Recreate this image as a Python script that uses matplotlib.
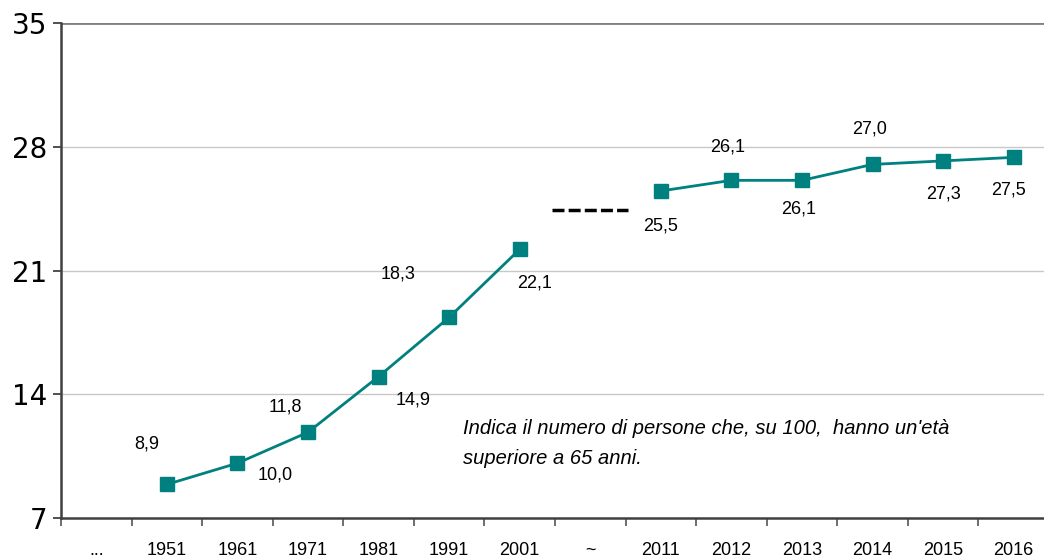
import numpy as np
import matplotlib.pyplot as plt

# categories on the x axis
categories = ["...", "1951", "1961", "1971", "1981", "1991", "2001", "~",
              "2011", "2012", "2013", "2014", "2015", "2016"]

# census years (first segment) and recent years (second segment)
first_years = ["1951", "1961", "1971", "1981", "1991", "2001"]
first_values = [8.9, 10.0, 11.8, 14.9, 18.3, 22.1]
second_years = ["2011", "2012", "2013", "2014", "2015", "2016"]
second_values = [25.5, 26.1, 26.1, 27.0, 27.3, 27.5]

# plotted positions (label text differs slightly from marker height in source)
first_plot = [8.9, 10.1, 11.85, 15.0, 18.35, 22.2]
second_plot = [25.5, 26.1, 26.1, 27.0, 27.2, 27.4]

gap_category = "~"
gap_level = 24.4

note = "Indica il numero di persone che, su 100,  hanno un'età\nsuperiore a 65 anni."

teal = "#00807f"

fig = plt.figure(figsize=(10.44, 5.6), dpi=100)
ax = fig.add_axes([61 / 1044, 42 / 560, 988 / 1044, 495 / 560])

pos = {c: i for i, c in enumerate(categories)}
x1 = [pos[c] for c in first_years]
x2 = [pos[c] for c in second_years]

ax.plot(x1, first_plot, color=teal, lw=2, marker="s", ms=10, zorder=3)
ax.plot(x2, second_plot, color=teal, lw=2, marker="s", ms=10, zorder=3)

g = pos[gap_category]
ax.plot([g - 0.54, g + 0.54], [gap_level, gap_level], color="black", lw=2.5,
        dashes=(3.45, 1.2), solid_capstyle="butt", dash_capstyle="butt")

# label offsets in pixels (dx, dy) relative to each marker
offsets1 = [(-20, 40), (38, -12), (-23, 25), (35, -23), (-51, 43), (15, -34)]
offsets2 = [(0, -35), (-4, 33), (-3, -29), (-3, 35), (0, -33), (-5, -33)]
for xs, ys, vals, offs in [(x1, first_plot, first_values, offsets1),
                           (x2, second_plot, second_values, offsets2)]:
    for x, y, v, (dx, dy) in zip(xs, ys, vals, offs):
        ax.annotate(f"{v:.1f}".replace(".", ","), (x, y),
                    xytext=(dx * 0.72, dy * 0.72), textcoords="offset points",
                    ha="center", va="center", fontsize=13,
                    family="Liberation Sans")

ax.text(5.2, 11.2, note, fontsize=14.5, style="italic",
        family="Liberation Sans", va="center", ha="left", linespacing=1.7)

ax.set_xlim(-0.5, len(categories) - 0.5)
ax.set_ylim(7, 35)
ax.set_yticks([7, 14, 21, 28, 35])
ax.set_yticklabels(["7", "14", "21", "28", "35"], fontsize=20,
                   family="DejaVu Sans")
ax.set_xticks(range(len(categories)))
ax.set_xticklabels(categories, fontsize=13, family="Liberation Sans")
ax.set_xticks(np.arange(-0.5, len(categories), 1), minor=True)
ax.tick_params(axis="x", which="major", length=0, pad=17)
ax.tick_params(axis="x", which="minor", length=6, width=1.2, color="#555555")
ax.tick_params(axis="y", length=6, width=1.2, color="#333333", pad=4)

for y in [14, 21, 28]:
    ax.axhline(y, color="#c8c8c8", lw=1, zorder=0)
ax.axhline(35, color="#808080", lw=2, zorder=0)

ax.spines["top"].set_visible(False)
ax.spines["right"].set_visible(False)
ax.spines["left"].set_color("#404040")
ax.spines["left"].set_linewidth(1.8)
ax.spines["bottom"].set_color("#404040")
ax.spines["bottom"].set_linewidth(1.8)

fig.savefig("out.png", dpi=100)
